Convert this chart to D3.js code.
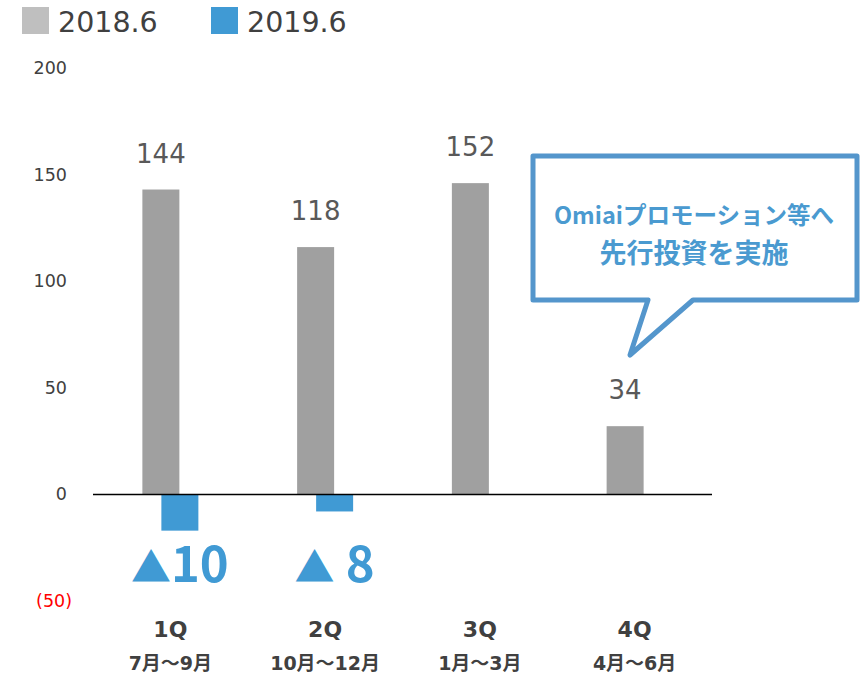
<!DOCTYPE html>
<html>
<head>
<meta charset="utf-8">
<script src="https://cdn.jsdelivr.net/npm/d3@7"></script>
<style>
body { margin: 0; background: #fff; }
text { font-family: "DejaVu Sans", "Noto Sans CJK JP", sans-serif; }
</style>
</head>
<body>
<div id="chart"></div>
<script>
var quarters = ["1Q", "2Q", "3Q", "4Q"];
var months = ["7月～9月", "10月～12月", "1月～3月", "4月～6月"];
var series = ["2018.6", "2019.6"];
var prevValues = [143, 116, 146, 32];
var prevLabels = ["144", "118", "152", "34"];
var curValues = [-17, -8, null, null];
var curLabels = ["▲10", "▲ 8", "", ""];
var yTicks = [200, 150, 100, 50, 0, -50];
var calloutLines = ["Omiaiプロモーション等へ", "先行投資を実施"];

var grey = "#a0a0a0", legendGrey = "#bfbfbf", blue = "#409ad4", textCol = "#404040";

var svg = d3.select("#chart").append("svg")
    .attr("width", 860)
    .attr("height", 675);

var x = d3.scaleBand().domain(quarters).range([93, 712]);
var y = d3.scaleLinear().domain([-50, 200]).range([601, 68]);
var barW = 37, off = 9.5;

// legend
var legend = svg.selectAll(".legend")
    .data(series)
    .enter().append("g")
    .attr("transform", function(d, i) { return "translate(" + (22 + i * 189) + ",7)"; });
legend.append("rect")
    .attr("width", 27).attr("height", 27)
    .style("fill", function(d, i) { return i == 0 ? legendGrey : blue; });
legend.append("text")
    .attr("x", 36).attr("y", 25)
    .style("font-size", "28.5px")
    .style("fill", textCol)
    .text(function(d) { return d; });

// y axis labels
svg.selectAll(".ytick")
    .data(yTicks)
    .enter().append("text")
    .attr("x", function(d) { return d < 0 ? 72 : 67; })
    .attr("y", function(d) { return y(d) + 6; })
    .attr("text-anchor", "end")
    .style("font-size", "17.5px")
    .style("fill", function(d) { return d < 0 ? "#ff0000" : textCol; })
    .text(function(d) { return d < 0 ? "(" + (-d) + ")" : d; });

// grey bars
svg.selectAll(".prev")
    .data(prevValues)
    .enter().append("rect")
    .attr("x", function(d, i) { return x(quarters[i]) + x.bandwidth() / 2 - off - barW / 2; })
    .attr("y", function(d) { return y(d); })
    .attr("width", barW)
    .attr("height", function(d) { return y(0) - y(d); })
    .style("fill", grey);

svg.selectAll(".prevLabel")
    .data(prevValues)
    .enter().append("text")
    .attr("x", function(d, i) { return x(quarters[i]) + x.bandwidth() / 2 - off; })
    .attr("y", function(d) { return y(d) - 27; })
    .attr("text-anchor", "middle")
    .style("font-size", "26px")
    .style("fill", "#595959")
    .text(function(d, i) { return prevLabels[i]; });

// blue bars
var cur = curValues.map(function(v, i) { return {v: v, q: quarters[i], label: curLabels[i]}; })
    .filter(function(d) { return d.v != null; });

svg.selectAll(".cur")
    .data(cur)
    .enter().append("rect")
    .attr("x", function(d) { return x(d.q) + x.bandwidth() / 2 + off - barW / 2; })
    .attr("y", y(0))
    .attr("width", barW)
    .attr("height", function(d) { return y(d.v) - y(0); })
    .style("fill", blue);

var curText = svg.selectAll(".curLabel")
    .data(cur)
    .enter().append("text")
    .attr("x", function(d) { return x(d.q) + x.bandwidth() / 2 + off; })
    .attr("y", 582)
    .attr("text-anchor", "middle")
    .style("font-family", "'Noto Sans CJK JP', sans-serif")
    .style("font-weight", "bold")
    .style("fill", blue);
curText.append("tspan")
    .style("font-size", "40px")
    .text(function(d) { return d.label.slice(0, 1); });
curText.append("tspan")
    .style("font-size", "49px")
    .text(function(d) { return d.label.slice(1); });

// zero line
svg.append("line")
    .attr("x1", 93).attr("x2", 712)
    .attr("y1", y(0)).attr("y2", y(0))
    .style("stroke", "#000")
    .style("stroke-width", 1.5);

// category labels
svg.selectAll(".cat")
    .data(quarters)
    .enter().append("text")
    .attr("x", function(d) { return x(d) + x.bandwidth() / 2; })
    .attr("y", 637)
    .attr("text-anchor", "middle")
    .style("font-size", "22px")
    .style("font-weight", "bold")
    .style("fill", textCol)
    .text(function(d) { return d; });

svg.selectAll(".month")
    .data(months)
    .enter().append("text")
    .attr("x", function(d, i) { return x(quarters[i]) + x.bandwidth() / 2; })
    .attr("y", 670)
    .attr("text-anchor", "middle")
    .style("font-size", "19px")
    .style("font-weight", "bold")
    .style("fill", textCol)
    .text(function(d) { return d; });

// callout
var c = {l: 533, t: 156, r: 857, b: 300};
svg.append("path")
    .attr("d", "M" + c.l + "," + c.t + "H" + c.r + "V" + c.b + "H693L630,355L648," + c.b + "H" + c.l + "Z")
    .style("fill", "#fff")
    .style("stroke", "#5496cc")
    .style("stroke-width", 5)
    .style("stroke-linejoin", "round");

svg.selectAll(".callout")
    .data(calloutLines)
    .enter().append("text")
    .attr("x", 694)
    .attr("y", function(d, i) { return i == 0 ? 224 : 263; })
    .attr("text-anchor", "middle")
    .style("font-family", "'Noto Sans CJK JP', sans-serif")
    .style("font-size", function(d, i) { return i == 0 ? "23.5px" : "27px"; })
    .style("font-weight", "bold")
    .style("fill", "#4a9ad0")
    .text(function(d) { return d; });
</script>
</body>
</html>
